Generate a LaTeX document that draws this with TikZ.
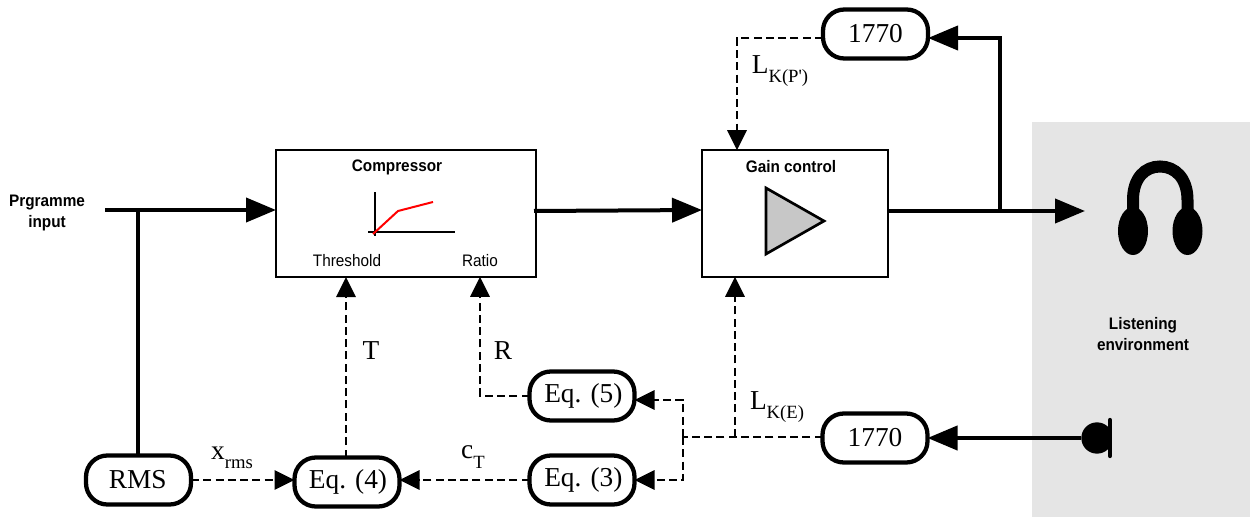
\documentclass[tikz,border=0pt]{standalone}
\usepackage{fontspec}
\setmainfont{Liberation Serif}
\newfontfamily\plainser{Liberation Serif}
\newfontfamily\labfont[FakeStretch=0.92]{Liberation Sans}
\usetikzlibrary{arrows.meta,calc}
\newcommand{\subt}[2]{#1\raisebox{-0.34em}{\plainser\fontsize{14pt}{16pt}\selectfont #2}}
\tikzset{
  eqbox/.style={draw=black,line width=3.2pt,rounded corners=16pt,fill=white,minimum width=78.75pt,minimum height=36.75pt,inner sep=0pt,outer sep=0pt,font=\fontsize{20.5pt}{24pt}\selectfont},
  blockbox/.style={draw=black,line width=1.5pt,fill=white,inner sep=0pt,outer sep=0pt,minimum height=95pt},
  thick line/.style={line width=3pt},
  solidarrow/.style={line width=3pt,-{Triangle[length=22.5pt,width=18pt]}},
  dashline/.style={line width=1.6pt,dash pattern=on 6pt off 3.2pt},
  dasharrow/.style={dashline,-{Triangle[length=15pt,width=14.5pt]}},
  boldlab/.style={font=\labfont\bfseries\fontsize{12.5pt}{16pt}\selectfont,align=center,inner sep=0pt},
  thinlab/.style={font=\labfont\fontsize{12.5pt}{15pt}\selectfont,inner sep=0pt},
  serlab/.style={font=\fontsize{20.5pt}{24pt}\selectfont,inner sep=0pt},
}
\begin{document}
\begin{tikzpicture}[x=0.75pt,y=-0.75pt]
\useasboundingbox (0,0) rectangle (1250,517);
\fill[white] (0,0) rectangle (1250,517);
\fill[fill=black!10] (1032,122) rectangle (1250,517);

% blocks
\node[blockbox,minimum width=195pt] (comp) at (406,213.5) {};
\node[blockbox,minimum width=139.5pt] (gain) at (795,213.5) {};
\node[boldlab] (complab) at (397,167) {Compressor};
\node[boldlab] (gainlab) at (791,167) {Gain control};
\node[thinlab] (thr) at (347,261) {Threshold};
\node[thinlab] (rat) at (480,261) {Ratio};
\node[boldlab] (prog) at (47,213) {Prgramme\\input};
\node[boldlab] (lis) at (1143,334) {Listening\\environment};

% compressor curve
\draw[line width=1.5pt] (375,192) -- (375,236);
\draw[line width=1.5pt] (368,232) -- (455,232);
\draw[red,line width=1.5pt] (373,234) -- (398,211) -- (433,202);

% amplifier
\draw[line width=2pt,fill=black!22,line join=miter] (766,188) -- (824,221) -- (766,254) -- cycle;

% rounded nodes
\node[eqbox] (rms) at (138.5,480) {\hspace*{-1pt}RMS};
\node[eqbox] (eq4) at (347,482) {\hspace*{1.5pt}Eq. (4)};
\node[eqbox] (eq5) at (582,396) {\hspace*{2pt}Eq. (5)};
\node[eqbox] (eq3) at (582,480) {\hspace*{2pt}Eq. (3)};
\node[eqbox] (lk2) at (875,438) {1770};
\node[eqbox] (lk1) at (875.5,34) {1770};

% headphones
\draw[line width=9pt,line cap=butt] (1133,212) -- (1133,200) .. controls (1133,178) and (1145,166.5) .. (1160,166.5) .. controls (1175,166.5) and (1187.5,178) .. (1187.5,200) -- (1187.5,212);
\fill (1133,231) ellipse [x radius=15,y radius=24];
\fill (1187.5,231) ellipse [x radius=15,y radius=24];

% microphone
\begin{scope}
\clip (1070,410) rectangle (1110,466);
\node[circle,fill=black,minimum size=23.5pt,inner sep=0pt,outer sep=0pt] (mic) at (1097,438) {};
\end{scope}
\draw[line width=3.2pt,line cap=round] (1110,420) -- (1110,456);

% free ends and junctions
\coordinate (in) at (105,210);
\coordinate (intap) at (138,210);
\coordinate (phones) at (1085,211);
\coordinate (tap) at (1000,211);
\coordinate (corner) at (1000,38);
\coordinate (topl) at (737,38);
\coordinate (jn) at (683,437);
\coordinate (jup) at (683,400);
\coordinate (jdn) at (683,480);
\coordinate (jv) at (735,437);
\coordinate (r1) at (480,396);

% solid connectors
\draw[solidarrow] (in) -- (comp.west |- in);
\draw[thick line] (intap) -- (intap |- rms.north);
\draw[solidarrow] (534,211) -- (gain.west |- 0,210);
\draw[solidarrow] (888,211) -- (phones);
\draw[solidarrow,line join=miter] (tap) -- (corner) -- (lk1.east |- corner);
\draw[solidarrow] (mic.west) -- (lk2.east);

% dashed connectors
\draw[dasharrow] (rms.east) -- (eq4.west |- rms.east);
\draw[dasharrow] (eq3.west) -- (eq4.east |- eq3.west);
\draw[dasharrow] (eq4.north -| 346,0) -- (346,277);
\draw[dasharrow] (eq5.west) -- (r1) -- (r1 |- comp.south);
\draw[dasharrow] (lk1.west |- topl) -- (topl) -- (topl |- gain.north);
\draw[dashline] (lk2.west |- jn) -- (jn);
\draw[dasharrow] (jv) -- (jv |- gain.south);
\draw[dasharrow] (jn) -- (jup) -- (eq5.east |- jup);
\draw[dasharrow] (jn) -- (jdn) -- (eq3.east |- jdn);

% signal labels
\node[serlab] (lt) at (371,351) {T};
\node[serlab] (lr) at (503,351) {R};
\node[serlab] (lx) at (232,458) {\subt{x}{rms}};
\node[serlab] (lc) at (473,457) {\subt{c}{T}};
\node[serlab] (le) at (777,407) {\subt{L}{K(E)}};
\node[serlab] (lp) at (780,71) {\subt{L}{K(P')}};
\end{tikzpicture}
\end{document}
